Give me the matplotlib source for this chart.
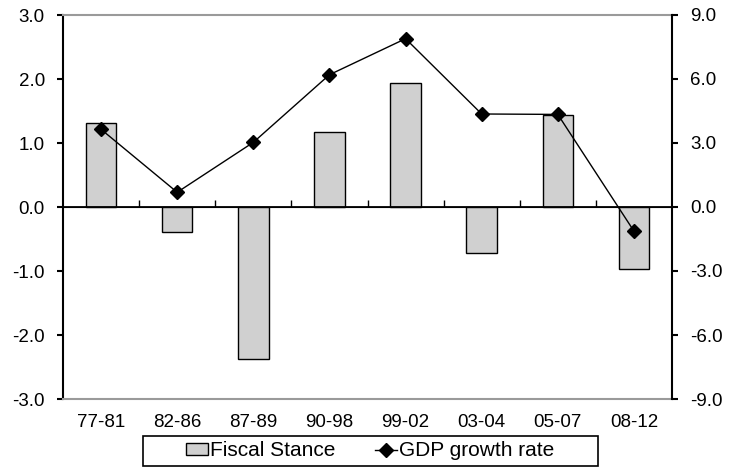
import matplotlib
matplotlib.use("Agg")
import matplotlib.pyplot as plt
from matplotlib.patches import Rectangle
import numpy as np

periods = ["77-81", "82-86", "87-89", "90-98", "99-02", "03-04", "05-07", "08-12"]
fiscal_stance = [1.32, -0.39, -2.38, 1.17, 1.93, -0.72, 1.43, -0.97]
gdp_growth = [3.64, 0.69, 3.03, 6.20, 7.89, 4.36, 4.34, -1.13]
left_ticks = [-3.0, -2.0, -1.0, 0.0, 1.0, 2.0, 3.0]
right_ticks = [-9.0, -6.0, -3.0, 0.0, 3.0, 6.0, 9.0]

plt.rcParams["font.family"] = ["Liberation Sans", "DejaVu Sans"]
plt.rcParams["font.size"] = 13.5

W, H = 729, 468
fig = plt.figure(figsize=(W / 100, H / 100), dpi=100)
ax = fig.add_axes([63 / W, (H - 399) / H, (672 - 63) / W, (399 - 15) / H])
x = np.arange(len(periods))

bars = ax.bar(x, fiscal_stance, width=0.4, color="#d0d0d0", edgecolor="black",
              linewidth=1.0, label="Fiscal Stance", zorder=2)
ax.set_xlim(-0.5, len(periods) - 0.5)
ax.set_ylim(-3, 3)
ax.set_yticks(left_ticks)
ax.set_yticklabels([f"{v:.1f}" for v in left_ticks])
ax.set_xticks(x)
ax.set_xticklabels(periods)
ax.tick_params(axis="x", length=0, pad=11)
ax.tick_params(axis="y", direction="out", length=4.5, width=1.5, color="black", pad=8.5)
ax.axhline(0, color="black", linewidth=1.3, zorder=3)
for s in ["top", "bottom"]:
    ax.spines[s].set_color("#9a9a9a")
    ax.spines[s].set_linewidth(1.5)
ax.spines["left"].set_color("black")
ax.spines["left"].set_linewidth(1.5)
ax.spines["right"].set_visible(False)

# tick marks on the zero line at category boundaries
sec = ax.secondary_xaxis(0.5)
sec.set_xticks(np.arange(0.5, len(periods) - 0.5, 1.0))
sec.set_xticklabels([])
sec.tick_params(direction="out", length=5, width=1.0, color="black")
sec.spines["bottom"].set_visible(False)

ax2 = ax.twinx()
line, = ax2.plot(x, gdp_growth, color="black", linewidth=1.0, marker="D",
                 markersize=7, label="GDP growth rate", zorder=4)
ax2.set_ylim(-9, 9)
ax2.set_yticks(right_ticks)
ax2.set_yticklabels([f"{v:.1f}" for v in right_ticks])
ax2.tick_params(axis="y", direction="out", length=4.5, width=1.5, color="black", pad=8.5)
for s in ["top", "bottom", "left"]:
    ax2.spines[s].set_visible(False)
ax2.spines["right"].set_color("black")
ax2.spines["right"].set_linewidth(1.5)

leg = fig.legend([bars, line], ["Fiscal Stance", "GDP growth rate"], loc="center",
                 bbox_to_anchor=(370 / W, (H - 451) / H), ncol=2, frameon=False,
                 handlelength=1.05, handleheight=0.45, handletextpad=0.1,
                 columnspacing=1.9, borderpad=0.0, fontsize=15)
fig.patches.append(Rectangle((143 / W, (H - 466) / H), (598 - 143) / W, 30 / H,
                             transform=fig.transFigure, fill=False,
                             edgecolor="black", linewidth=1.2))

fig.savefig("out.png", dpi=100)
